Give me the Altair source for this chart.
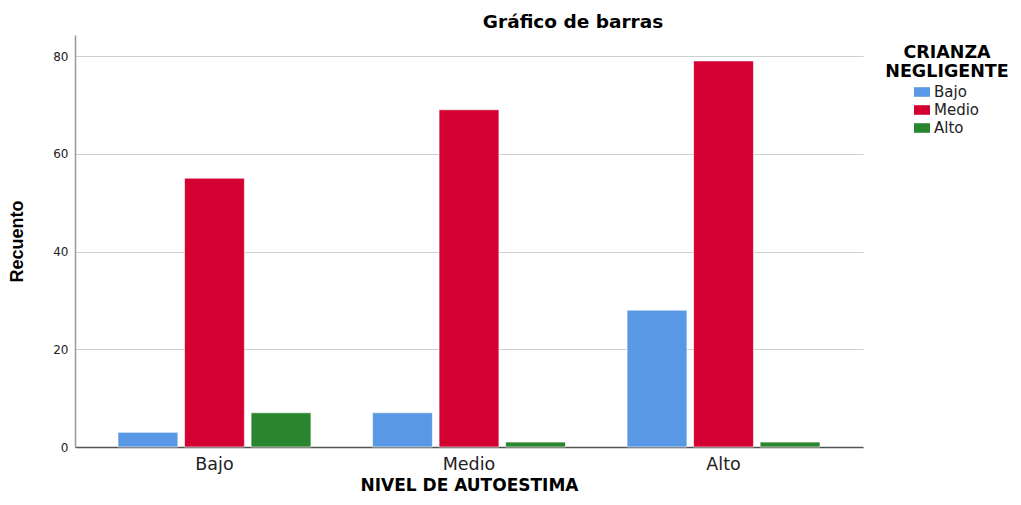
import altair as alt
import pandas as pd

nivel = ["Bajo", "Medio", "Alto"]
crianza = ["Bajo", "Medio", "Alto"]
bajo_vals = [3, 7, 28]
medio_vals = [55, 69, 79]
alto_vals = [7, 1, 1]
colors = ["#5898e4", "#d50032", "#2a862e"]
y_ticks = [0, 20, 40, 60, 80]

rows = []
for i, n in enumerate(nivel):
    for c, vals in zip(crianza, [bajo_vals, medio_vals, alto_vals]):
        rows.append({"nivel": n, "crianza": c, "recuento": vals[i]})
df = pd.DataFrame(rows)

bold = "DejaVu Sans"
narrow = "Liberation Sans"

chart = alt.Chart(df).mark_bar(stroke="white", strokeWidth=1, strokeOpacity=0.6).encode(
    x=alt.X("nivel:N", sort=nivel, title="NIVEL DE AUTOESTIMA",
            scale=alt.Scale(paddingInner=0.242, paddingOuter=0.169),
            axis=alt.Axis(labelAngle=0, ticks=False, labelFont="DejaVu Sans", labelFontSize=17.5,
                          labelColor="#222", labelPadding=8, domainColor="#555", domainWidth=1.5,
                          titleFont=bold, titleFontSize=17, titleFontWeight="bold",
                          titleColor="#000", titlePadding=5, grid=False)),
    xOffset=alt.XOffset("crianza:N", sort=crianza, scale=alt.Scale(paddingInner=0.1, paddingOuter=0)),
    y=alt.Y("recuento:Q", title="Recuento", scale=alt.Scale(domain=[0, 84.3], nice=False),
            axis=alt.Axis(values=y_ticks, ticks=False, labelFont="DejaVu Sans", labelFontSize=12,
                          labelColor="#222", labelPadding=7, domainColor="#999", domainWidth=1.5,
                          gridColor="#cfcfcf", gridWidth=1.2,
                          titleFont=narrow, titleFontSize=18, titleFontWeight="bold",
                          titleColor="#000", titlePadding=26)),
    color=alt.Color("crianza:N", sort=crianza,
                    scale=alt.Scale(domain=crianza, range=colors),
                    legend=alt.Legend(title=["CRIANZA", "NEGLIGENTE"], orient="none",
                                      legendX=810, legendY=9,
                                      titleFont=bold, titleFontSize=17.5, titleFontWeight="bold",
                                      titleColor="#000", titleAnchor="middle", titleAlign="center",
                                      titleLineHeight=18.5, titlePadding=4,
                                      symbolType="M-1,-0.6H1V0.6H-1Z", symbolSize=256,
                                      symbolStrokeWidth=0, symbolOffset=0,
                                      labelFont="DejaVu Sans", labelFontSize=15, labelColor="#222",
                                      labelOffset=4, rowPadding=2)),
).properties(
    width=788, height=412,
    title=alt.TitleParams("Gráfico de barras", font=bold, fontSize=18.5, fontWeight="bold",
                          color="#000", anchor="middle", dx=104, offset=4),
    autosize="none",
    padding={"left": 67, "top": 27, "right": 150, "bottom": 50},
).configure_view(stroke=None)

chart.save("out.html", embed_options={"renderer": "svg", "actions": False})
